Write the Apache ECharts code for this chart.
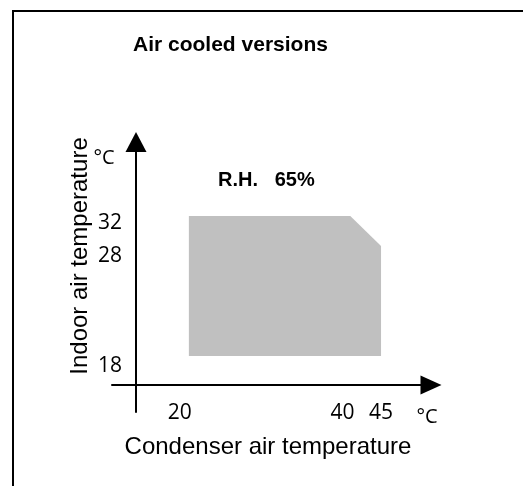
<!DOCTYPE html>
<html>
<head>
<meta charset="utf-8">
<title>Air cooled versions</title>
<script src="https://cdn.jsdelivr.net/npm/echarts@6/dist/echarts.min.js"></script>
<style>
  html, body { margin: 0; padding: 0; background: #ffffff; }
  #chart { width: 523px; height: 486px; }
</style>
</head>
<body>
<div id="chart"></div>
<script>
// operating envelope corners: condenser air temp (x) / indoor air temp (y), in °C
const envelopeX = [20, 20, 41, 45, 45];
const envelopeY = [18, 32, 32, 29, 18];

// tick labels shown on the axes
const xTicks = [20, 40, 45];
const yTicks = [18, 28, 32];

// visible extent of the axes
const xRange = [10, 51.5];
const yRange = [12.4, 39.4];

const sansFont = '"Liberation Sans", Arial, sans-serif';
const tickFont = '"Open Sans", "Noto Sans", sans-serif';

var chartDom = document.getElementById("chart");
var myChart = echarts.init(chartDom);

var envelopeData = envelopeX.map(function (x, i) {
  return [x, envelopeY[i]];
});

// the drawing's labels sit a little off their exact values
var tickStyle = { fontFamily: tickFont, fontSize: 21, color: "#000" };
var xRich = {
  n: tickStyle,
  l: Object.assign({ padding: [0, 18, 0, 0] }, tickStyle),
};
var yRich = {
  n: tickStyle,
  d7: Object.assign({ padding: [14, 0, 0, 0] }, tickStyle),
  d10: Object.assign({ padding: [20, 0, 0, 0] }, tickStyle),
};

var option = {
  animation: false,
  backgroundColor: "#ffffff",
  title: [
    {
      text: "Air cooled versions",
      left: 133,
      top: 35,
      padding: 0,
      textStyle: { fontFamily: sansFont, fontSize: 21, fontWeight: "bold", color: "#000" },
    },
    {
      text: "R.H.   65%",
      left: 218,
      top: 170,
      padding: 0,
      textStyle: { fontFamily: sansFont, fontSize: 20, fontWeight: "bold", color: "#000" },
    },
  ],
  grid: { left: 112, right: 92, top: 142, bottom: 74 },
  xAxis: {
    type: "value",
    min: xRange[0],
    max: xRange[1],
    offset: -27,
    name: "Condenser air temperature",
    nameLocation: "middle",
    nameGap: 50,
    nameTextStyle: { fontFamily: sansFont, fontSize: 24, color: "#000", padding: [0, 7, 0, 0] },
    axisLine: {
      onZero: false,
      symbol: ["none", "triangle"],
      symbolSize: [19, 21],
      lineStyle: { color: "#000", width: 2 },
    },
    axisTick: { show: false },
    splitLine: { show: false },
    axisLabel: {
      customValues: xTicks,
      margin: 18,
      rich: xRich,
      formatter: function (v) {
        return v === 20 ? "{l|" + v + "}" : "{n|" + v + "}";
      },
    },
  },
  yAxis: {
    type: "value",
    min: yRange[0],
    max: yRange[1],
    offset: -24,
    axisLine: {
      show: true,
      onZero: false,
      symbol: ["none", "triangle"],
      symbolSize: [21, 20],
      lineStyle: { color: "#000", width: 2 },
    },
    axisTick: { show: false },
    splitLine: { show: false },
    axisLabel: {
      customValues: yTicks,
      margin: 14,
      rich: yRich,
      formatter: function (v) {
        if (v === 32) return "{d7|" + v + "}";
        if (v === 18) return "{d10|" + v + "}";
        return "{n|" + v + "}";
      },
    },
  },
  graphic: [
    {
      type: "rect",
      x: 13,
      y: 11,
      shape: { x: 0, y: 0, width: 700, height: 700 },
      style: { fill: "none", stroke: "#000", lineWidth: 2 },
      silent: true,
    },
    {
      type: "text",
      x: 80,
      y: 256,
      rotation: Math.PI / 2,
      style: {
        text: "Indoor air temperature",
        fontFamily: sansFont,
        fontSize: 24,
        fill: "#000",
        align: "center",
        verticalAlign: "middle",
      },
    },
    {
      type: "text",
      x: 104,
      y: 158,
      style: {
        text: "°C",
        fontFamily: tickFont,
        fontSize: 20,
        fill: "#000",
        align: "center",
        verticalAlign: "middle",
      },
    },
    {
      type: "text",
      x: 427,
      y: 417,
      style: {
        text: "°C",
        fontFamily: tickFont,
        fontSize: 20,
        fill: "#000",
        align: "center",
        verticalAlign: "middle",
      },
    },
  ],
  series: [
    {
      type: "custom",
      data: envelopeData,
      encode: { x: 0, y: 1 },
      renderItem: function (params, api) {
        if (params.dataIndex !== 0) return;
        var points = envelopeData.map(function (p) {
          return api.coord(p);
        });
        return {
          type: "polygon",
          shape: { points: points },
          style: { fill: "#c0c0c0" },
        };
      },
    },
  ],
};

myChart.setOption(option);
</script>
</body>
</html>
